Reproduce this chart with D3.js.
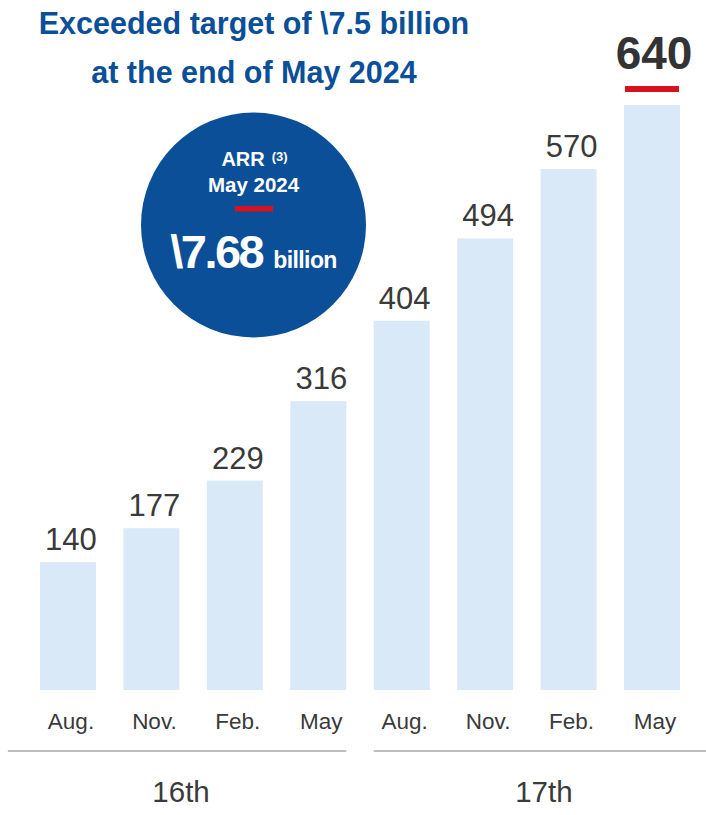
<!DOCTYPE html>
<html>
<head>
<meta charset="utf-8">
<script src="https://cdn.jsdelivr.net/npm/d3@7"></script>
<style>
  html, body { margin: 0; padding: 0; background: #ffffff; }
  svg { display: block; font-family: "Liberation Sans", Arial, sans-serif; }
</style>
</head>
<body>
<svg id="chart" width="706" height="815"></svg>
<script>
// ARR by quarter-end month, in units of 100 million yen
const months = ["Aug.", "Nov.", "Feb.", "May", "Aug.", "Nov.", "Feb.", "May"];
const periods = ["16th", "16th", "16th", "16th", "17th", "17th", "17th", "17th"];
const values = [140, 177, 229, 316, 404, 494, 570, 640];
const periodNames = ["16th", "17th"];

const titleLines = ["Exceeded target of \\7.5 billion", "at the end of May 2024"];
const badgeLines = ["ARR", "May 2024"];
const badgeNote = "(3)";
const badgeValue = "\\7.68";
const badgeUnit = "billion";

const W = 706, H = 815;
const blue = "#0b4f99";
const red = "#d7121f";
const barFill = "#dae9f8";
const ink = "#3a3a3a";

const data = values.map((v, i) => ({ key: i, month: months[i], period: periods[i], value: v }));

const svg = d3.select("#chart");

const x = d3.scaleBand()
  .domain(data.map(d => d.key))
  .range([40, 680])
  .paddingInner(0.329)
  .paddingOuter(0);

const y = d3.scaleLinear().domain([0, 640]).range([690, 105]);

// bars
svg.append("g").selectAll("rect")
  .data(data)
  .join("rect")
  .attr("x", d => x(d.key))
  .attr("y", d => y(d.value))
  .attr("width", x.bandwidth())
  .attr("height", d => y(0) - y(d.value))
  .attr("fill", barFill);

const last = data[data.length - 1];

// value labels
svg.append("g").selectAll("text")
  .data(data.filter(d => d !== last))
  .join("text")
  .attr("x", d => x(d.key) + x.bandwidth() / 2 + 3)
  .attr("y", d => y(d.value) - 12)
  .attr("text-anchor", "middle")
  .attr("font-size", 31)
  .attr("fill", ink)
  .text(d => d.value);

// latest value, highlighted
svg.append("text")
  .attr("x", x(last.key) + x.bandwidth() / 2 + 2)
  .attr("y", y(last.value) - 36)
  .attr("text-anchor", "middle")
  .attr("font-size", 46)
  .attr("font-weight", "bold")
  .attr("fill", "#333333")
  .text(last.value);

svg.append("rect")
  .attr("x", x(last.key) + 1)
  .attr("y", y(last.value) - 19)
  .attr("width", x.bandwidth() - 2)
  .attr("height", 6)
  .attr("fill", red);

// month axis
const axis = d3.axisBottom(x).tickSize(0).tickPadding(0).tickFormat(k => months[k]);
const axisG = svg.append("g")
  .attr("transform", "translate(0,713)")
  .call(axis);
axisG.select(".domain").remove();
axisG.selectAll("text")
  .attr("font-size", 22.5)
  .attr("fill", ink)
  .attr("font-family", "Liberation Sans, Arial, sans-serif")
  .attr("dx", 3)
  .attr("dy", "0.71em");

// fiscal period brackets
const step = x.step();
periodNames.forEach((p, gi) => {
  const keys = data.filter(d => d.period === p).map(d => d.key);
  const first = x(keys[0]);
  const end = x(keys[keys.length - 1]) + x.bandwidth();
  const x0 = gi === 0 ? first - step * 0.385 : first;
  const x1 = gi === 0 ? end : W;
  svg.append("line")
    .attr("x1", x0).attr("x2", x1)
    .attr("y1", 751).attr("y2", 751)
    .attr("stroke", "#bfbfbf")
    .attr("stroke-width", 2);
  svg.append("text")
    .attr("x", (x0 + x1) / 2 + 4)
    .attr("y", 802)
    .attr("text-anchor", "middle")
    .attr("font-size", 29.5)
    .attr("fill", ink)
    .text(p);
});

// title
svg.append("g").selectAll("text")
  .data(titleLines)
  .join("text")
  .attr("x", 254)
  .attr("y", (d, i) => 34 + i * 48.5)
  .attr("text-anchor", "middle")
  .attr("font-size", 30.5)
  .attr("font-weight", "bold")
  .attr("fill", blue)
  .text(d => d);

// ARR badge
const cx = 253.5, cy = 225, r = 112.5;
const badge = svg.append("g");
badge.append("circle")
  .attr("cx", cx).attr("cy", cy).attr("r", r)
  .attr("fill", blue);

const arr = badge.append("text")
  .attr("x", cx + 1)
  .attr("y", 166)
  .attr("text-anchor", "middle")
  .attr("font-size", 20)
  .attr("font-weight", "bold")
  .attr("fill", "#ffffff");
arr.append("tspan").text(badgeLines[0]);
arr.append("tspan")
  .attr("font-size", 13)
  .attr("dx", 7)
  .attr("dy", -5)
  .text(badgeNote);

badge.append("text")
  .attr("x", cx)
  .attr("y", 192)
  .attr("text-anchor", "middle")
  .attr("font-size", 20.5)
  .attr("font-weight", "bold")
  .attr("fill", "#ffffff")
  .text(badgeLines[1]);

badge.append("rect")
  .attr("x", 235).attr("y", 206)
  .attr("width", 38).attr("height", 5.5)
  .attr("fill", red);

const val = badge.append("text")
  .attr("x", cx)
  .attr("y", 268)
  .attr("text-anchor", "middle")
  .attr("font-weight", "bold")
  .attr("fill", "#ffffff");
val.append("tspan")
  .attr("font-size", 47)
  .attr("letter-spacing", -2.5)
  .text(badgeValue);
val.append("tspan")
  .attr("font-size", 23)
  .attr("letter-spacing", -0.6)
  .attr("dx", 11)
  .text(badgeUnit);
</script>
</body>
</html>
